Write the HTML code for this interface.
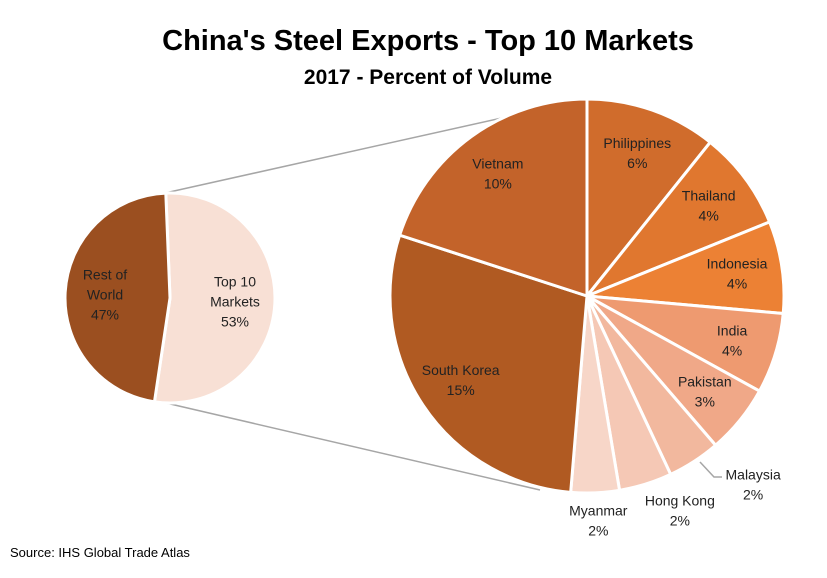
<!DOCTYPE html>
<html><head><meta charset="utf-8"><style>
body{margin:0;background:#fff}
svg{font-family:"Liberation Sans",Calibri,sans-serif}
</style></head><body>
<svg width="827" height="573" viewBox="0 0 827 573">
<text x="428" y="50" text-anchor="middle" font-size="29" font-weight="bold" fill="#000">China's Steel Exports - Top 10 Markets</text>
<text x="428" y="84" text-anchor="middle" font-size="21" font-weight="bold" fill="#000">2017 - Percent of Volume</text>
<line x1="165" y1="193" x2="587" y2="99" stroke="#a6a6a6" stroke-width="1.5"/>
<line x1="166" y1="403" x2="540" y2="490" stroke="#a6a6a6" stroke-width="1.5"/>
<g id="small"></g>
<g id="big"></g>
<text x="10" y="557" font-size="13" fill="#000">Source: IHS Global Trade Atlas</text>
</svg>
<script>
const bigNames=["Philippines","Thailand","Indonesia","India","Pakistan","Malaysia","Hong Kong","Myanmar","South Korea","Vietnam"];
const bigValues=[5.7,4.3,4.0,3.5,3.0,2.3,2.3,2.1,15.2,10.6];
const bigLabels=["6%","4%","4%","4%","3%","2%","2%","2%","15%","10%"];
const smallNames=["Top 10\nMarkets","Rest of\nWorld"];
const smallValues=[53,47];
const smallLabels=["53%","47%"];
const bigColors=["#d06c2c","#e0772f","#ec8134","#ee9a70","#f0a888","#f2b89e","#f5c8b5","#f7d6c8","#b05a22","#c3632a"];
const smallColors=["#f8e0d5","#9b4f20"];
const NS="http://www.w3.org/2000/svg";
function pt(cx,cy,r,a){return [cx+r*Math.sin(a),cy-r*Math.cos(a)];}
function pie(g,cx,cy,R,vals,names,labs,cols,start,opts){
  const tot=vals.reduce((a,b)=>a+b,0);let a=start;
  vals.forEach((v,i)=>{
    const s=a,e=a+v/tot*2*Math.PI;a=e;
    const p1=pt(cx,cy,R,s),p2=pt(cx,cy,R,e);
    const path=document.createElementNS(NS,'path');
    path.setAttribute('d',`M${cx},${cy}L${p1[0]},${p1[1]}A${R},${R} 0 ${e-s>Math.PI?1:0} 1 ${p2[0]},${p2[1]}Z`);
    path.setAttribute('fill',cols[i]);path.setAttribute('stroke','#fff');path.setAttribute('stroke-width','3');
    
    
    g.appendChild(path);
    const m=(s+e)/2;const out=opts.outside(i);
    let lp=pt(cx,cy,R*(out?opts.outR:opts.inR),m);
    if(out)lp[0]+=opts.dx[i]||0;
    const t=document.createElementNS(NS,'text');
    t.setAttribute('text-anchor','middle');t.setAttribute('font-size','14');t.setAttribute('fill','#222');
    
    
    const lines=names[i].split('\n').concat([labs[i]]);
    const y0=lp[1]-(lines.length-1)*10+5;
    lines.forEach((l,k)=>{const ts=document.createElementNS(NS,'tspan');ts.setAttribute('x',lp[0]);ts.setAttribute('y',y0+k*20);ts.textContent=l;t.appendChild(ts);});
    g.appendChild(t);
  });
}
pie(document.getElementById('big'),587,296,197,bigValues,bigNames,bigLabels,bigColors,0,
 {inR:0.77,outR:1.14,outside:i=>i>=5&&i<=7,dx:{5:44,6:26,7:2}});
pie(document.getElementById('small'),170,298,105,smallValues,smallNames,smallLabels,smallColors,-0.04,
 {inR:0.62,outR:1,outside:()=>false,dx:{}});
const ll=document.createElementNS(NS,'polyline');
ll.setAttribute('points','700,462 714,477 722,477');ll.setAttribute('fill','none');ll.setAttribute('stroke','#a6a6a6');ll.setAttribute('stroke-width','1.5');


document.getElementById('big').appendChild(ll);
</script>
</body></html>
